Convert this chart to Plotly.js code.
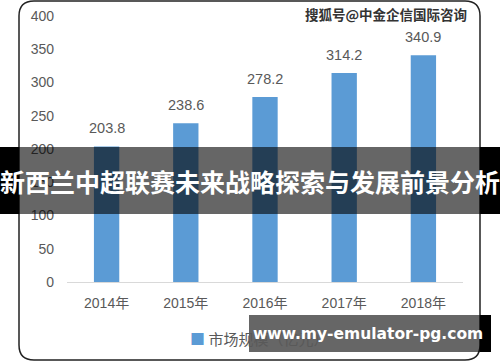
<!DOCTYPE html>
<html><head><meta charset="utf-8">
<script src="https://cdn.plot.ly/plotly-3.0.1.min.js"></script>
<style>html,body{margin:0;padding:0;background:#fff}#c{width:500px;height:362px}</style>
</head><body><div id="c"></div>
<script>
const years = ['2014年','2015年','2016年','2017年','2018年'];
const marketSize = [203.8, 238.6, 278.2, 314.2, 340.9];
const yTicks = [0,50,100,150,200,250,300,350,400];
const seriesName = '市场规模（亿元）';
const overlayTitle = '新西兰中超联赛未来战略探索与发展前景分析';
const watermark = '搜狐号@中金企信国际咨询';
const urlText = 'www.my-emulator-pg.com';

// plot area pixel geometry
const L = 67, R = 463, T = 16, B = 282;
const px = x => (x - L) / (R - L);
const py = y => (B - y) / (B - T);
const font = '"Liberation Sans", "Noto Sans CJK SC", sans-serif';
const cjk = '"Noto Sans CJK SC", sans-serif';

function roundRect(x0, y0, x1, y1, r) {
  return 'M' + px(x0 + r) + ',' + py(y0) +
    ' L' + px(x1 - r) + ',' + py(y0) +
    ' Q' + px(x1) + ',' + py(y0) + ' ' + px(x1) + ',' + py(y0 + r) +
    ' L' + px(x1) + ',' + py(y1 - r) +
    ' Q' + px(x1) + ',' + py(y1) + ' ' + px(x1 - r) + ',' + py(y1) +
    ' L' + px(x0 + r) + ',' + py(y1) +
    ' Q' + px(x0) + ',' + py(y1) + ' ' + px(x0) + ',' + py(y1 - r) +
    ' L' + px(x0) + ',' + py(y0 + r) +
    ' Q' + px(x0) + ',' + py(y0) + ' ' + px(x0 + r) + ',' + py(y0) + ' Z';
}

const trace = {
  type: 'bar', x: years, y: marketSize, name: seriesName,
  marker: {color: '#5B9BD5'},
  cliponaxis: false, showlegend: false
};

const valueLabels = years.map((yr, i) => ({
  xref: 'x', yref: 'y', x: yr, y: marketSize[i], text: marketSize[i].toFixed(1),
  showarrow: false, yanchor: 'bottom', yshift: 8,
  font: {family: font, size: 14.5, color: '#595959'}
}));

const shapes = [
  {type: 'path', xref: 'paper', yref: 'paper', path: roundRect(19, 1, 480, 360, 15),
   line: {color: '#222', width: 1.5}, fillcolor: 'rgba(0,0,0,0)', layer: 'below'},
  {type: 'rect', xref: 'paper', yref: 'paper', x0: px(0), x1: px(19), y0: py(214), y1: py(147),
   fillcolor: '#000', line: {width: 0}, layer: 'above'},
  {type: 'rect', xref: 'paper', yref: 'paper', x0: px(480), x1: px(500), y0: py(214), y1: py(147),
   fillcolor: '#000', line: {width: 0}, layer: 'above'},
  {type: 'rect', xref: 'paper', yref: 'paper', x0: px(19), x1: px(480), y0: py(214), y1: py(147),
   fillcolor: 'rgba(0,0,0,0.6)', line: {width: 0}, layer: 'above'},
  {type: 'rect', xref: 'paper', yref: 'paper', x0: px(249), x1: px(480), y0: py(352), y1: py(315),
   fillcolor: 'rgba(0,0,0,0.6)', line: {width: 0}, layer: 'above'},
  {type: 'rect', xref: 'paper', yref: 'paper', x0: px(480), x1: px(491), y0: py(352), y1: py(315),
   fillcolor: '#000', line: {width: 0}, layer: 'above'}
];

const annotations = valueLabels.concat([
  {xref: 'paper', yref: 'paper', x: px(188), y: py(338),
   text: '<span style="color:#5B9BD5">■</span> ' + seriesName,
   showarrow: false, font: {family: cjk, size: 15, color: '#595959'}, xanchor: 'left', yanchor: 'middle'},
  {xref: 'paper', yref: 'paper', x: px(250), y: py(181), text: '<b>' + overlayTitle + '</b>',
   showarrow: false, font: {family: cjk, size: 25, color: '#fff'}, xanchor: 'center', yanchor: 'middle'},
  {xref: 'paper', yref: 'paper', x: px(386), y: py(14), text: '<b>' + watermark + '</b>',
   showarrow: false, font: {family: cjk, size: 13.5, color: '#333'}, xanchor: 'center', yanchor: 'middle'},
  {xref: 'paper', yref: 'paper', x: px(368), y: py(334), text: '<b>' + urlText + '</b>',
   showarrow: false, font: {family: '"DejaVu Sans", sans-serif', size: 15.5, color: '#fff'}, xanchor: 'center', yanchor: 'middle'}
]);

const layout = {
  width: 500, height: 362,
  margin: {l: L, r: 500 - R, t: T, b: 362 - B},
  paper_bgcolor: '#fff', plot_bgcolor: '#fff',
  bargap: 0.68,
  xaxis: {showline: true, linecolor: '#d9d9d9', linewidth: 1, ticks: '', showgrid: false,
          tickfont: {family: font, size: 14, color: '#595959'}, ticklabelstandoff: 8, fixedrange: true},
  yaxis: {range: [0, 400], tickvals: yTicks, showgrid: false, zeroline: false, showline: false, ticks: '',
          tickfont: {family: font, size: 14, color: '#595959'}, ticklabelstandoff: 12, fixedrange: true},
  showlegend: false,
  shapes: shapes, annotations: annotations
};

Plotly.newPlot('c', [trace], layout, {displayModeBar: false, staticPlot: true});
</script></body></html>
